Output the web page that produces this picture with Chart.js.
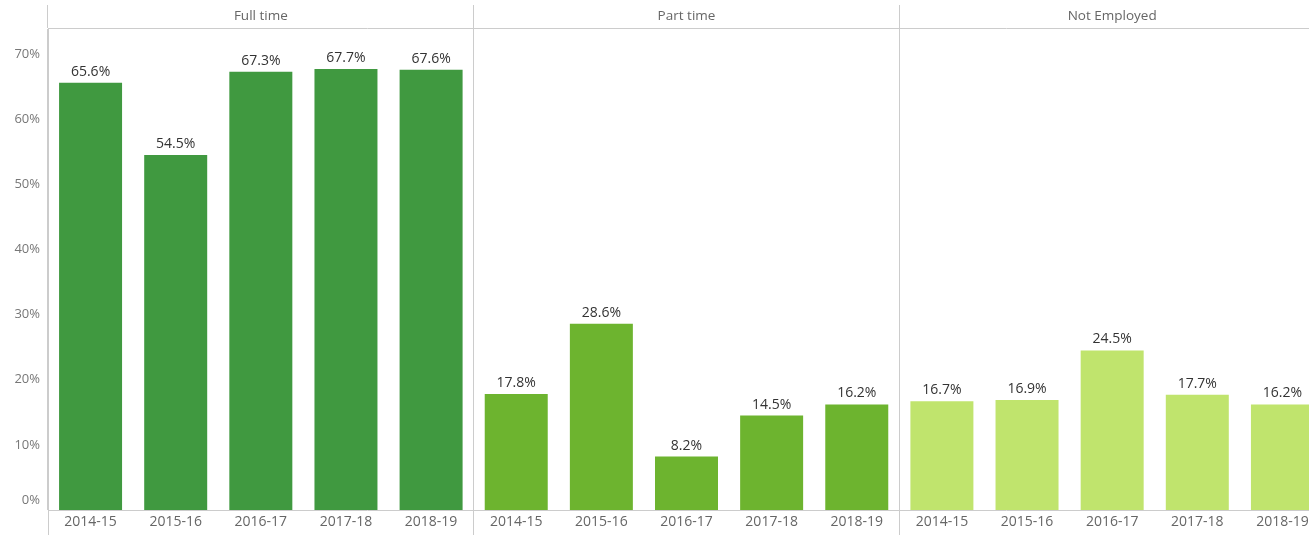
<!DOCTYPE html>
<html>
<head>
<meta charset="utf-8">
<script src="https://cdn.jsdelivr.net/npm/chart.js@4.4.1/dist/chart.umd.min.js"></script>
<style>
  html, body { margin: 0; padding: 0; background: #fff; overflow: hidden; }
  #wrap { width: 1309px; height: 535px; overflow: hidden; }
</style>
</head>
<body>
<div id="wrap"><canvas id="myChart" width="1325" height="535"></canvas></div>
<script>
const statuses = ['Full time', 'Part time', 'Not Employed'];
const years = ['2014-15', '2015-16', '2016-17', '2017-18', '2018-19'];
const fullTime = [65.6, 54.5, 67.3, 67.7, 67.6];
const partTime = [17.8, 28.6, 8.2, 14.5, 16.2];
const notEmployed = [16.7, 16.9, 24.5, 17.7, 16.2];
const statusColors = ['#409940', '#6db42f', '#c0e46d'];
const yTicks = [0, 10, 20, 30, 40, 50, 60, 70];

const FONT = '"Open Sans", "DejaVu Sans", sans-serif';

document.addEventListener("DOMContentLoaded", function () {
    const ctx = document.getElementById('myChart').getContext('2d');

    // one bar per status/year pair, panels laid out side by side
    const labels = statuses.flatMap(() => years);
    const values = [...fullTime, ...partTime, ...notEmployed];
    const colors = statuses.flatMap((s, i) => years.map(() => statusColors[i]));

    const barLabels = {
        id: 'barLabels',
        afterDatasetsDraw(chart) {
            const c = chart.ctx;
            const meta = chart.getDatasetMeta(0);
            c.save();
            c.font = '14px ' + FONT;
            c.fillStyle = '#333';
            c.textAlign = 'center';
            c.textBaseline = 'alphabetic';
            meta.data.forEach((bar, i) => {
                c.fillText(values[i].toFixed(1) + '%', bar.x, bar.y - 7);
            });
            c.restore();
        }
    };

    // y labels drawn by hand so the 0% label can sit just above the axis line
    const yLabels = {
        id: 'yLabels',
        afterDraw(chart) {
            const c = chart.ctx;
            const y = chart.scales.y;
            c.save();
            c.font = '13px ' + FONT;
            c.fillStyle = '#777';
            c.textAlign = 'right';
            c.textBaseline = 'middle';
            yTicks.forEach(v => {
                const py = Math.min(y.getPixelForValue(v), y.bottom - 10);
                c.fillText(v + '%', y.right - 8, py);
            });
            c.restore();
        }
    };

    new Chart(ctx, {
        type: 'bar',
        data: {
            labels: labels,
            datasets: [{
                data: values,
                backgroundColor: colors,
                borderWidth: 0,
                categoryPercentage: 1,
                barPercentage: 0.74
            }]
        },
        options: {
            responsive: false,
            animation: false,
            layout: { padding: 0 },
            plugins: {
                legend: { display: false },
                tooltip: { enabled: false }
            },
            scales: {
                y: {
                    min: 0,
                    max: 74,
                    ticks: { display: false, stepSize: 10, includeBounds: false },
                    grid: { display: false },
                    border: { color: '#cccccc' },
                    afterFit: scale => { scale.width = 48; }
                },
                x: {
                    type: 'category',
                    offset: true,
                    grid: {
                        offset: true,
                        drawOnChartArea: false,
                        tickLength: 25,
                        color: c => c.index % 5 === 0 ? '#cccccc' : 'rgba(0,0,0,0)'
                    },
                    border: { color: '#cccccc' },
                    ticks: {
                        autoSkip: false,
                        maxRotation: 0,
                        padding: -21,
                        color: '#666',
                        font: { family: FONT, size: 14 }
                    },
                    afterFit: scale => { scale.height = 25; }
                },
                x2: {
                    type: 'category',
                    position: 'top',
                    labels: statuses,
                    offset: true,
                    grid: {
                        offset: true,
                        drawOnChartArea: true,
                        tickLength: 23,
                        color: '#cccccc'
                    },
                    border: { color: '#cccccc' },
                    ticks: {
                        padding: -19,
                        color: '#666',
                        font: { family: FONT, size: 13.5 }
                    },
                    afterFit: scale => { scale.height = 28; }
                }
            }
        },
        plugins: [barLabels, yLabels]
    });
});
</script>
</body>
</html>
